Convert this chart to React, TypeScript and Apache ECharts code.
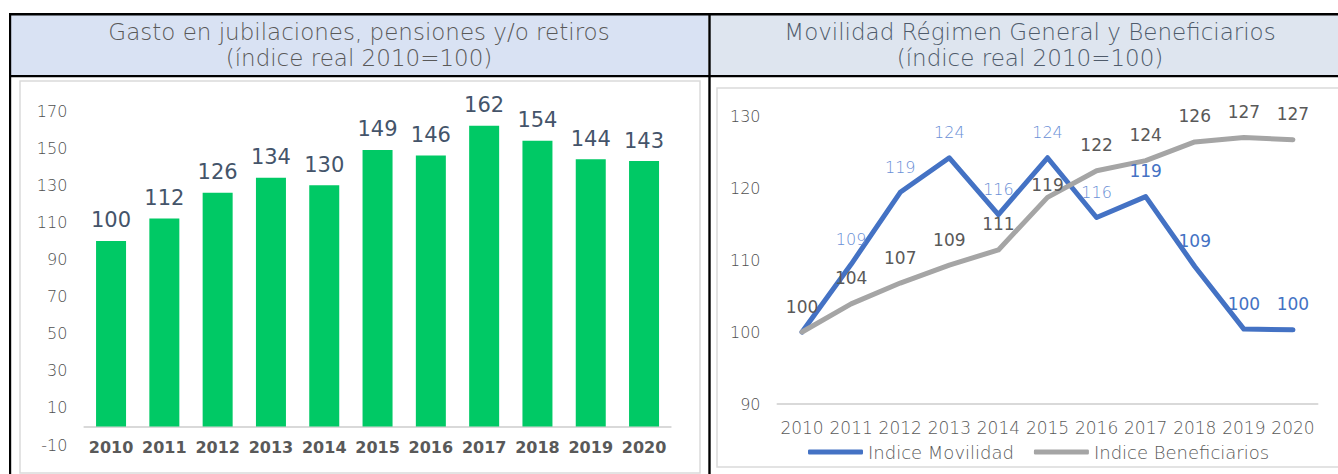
import React, { useEffect, useRef } from "react";
import * as echarts from "echarts";

const years = ["2010", "2011", "2012", "2013", "2014", "2015", "2016", "2017", "2018", "2019", "2020"];
const gasto = [100, 112, 126, 134, 130, 149, 146, 162, 154, 144, 143];
const movilidad = [100, 109.4, 119.4, 124.2, 116.3, 124.2, 115.9, 118.8, 109.1, 100.4, 100.3];
const beneficiarios = [100, 103.9, 106.8, 109.3, 111.4, 118.7, 122.4, 123.8, 126.4, 127.0, 126.7];
const leftTitle = "Gasto en jubilaciones, pensiones y/o retiros\n(índice real 2010=100)";
const rightTitle = "Movilidad Régimen General y Beneficiarios\n(índice real 2010=100)";
const seriesNames = ["Indice Movilidad", "Indice Beneficiarios"];

const FONT = "'DejaVu Sans', 'Noto Sans', sans-serif";

export default function App() {
  const ref = useRef<HTMLDivElement>(null);
  useEffect(() => {
    if (!ref.current) return;
    const chart = echarts.init(ref.current, null, { renderer: "svg" });
    const blueLight = "#6A8FD6";
    const blueDark = "#4472C4";
    const option: any = {
      animation: false,
      backgroundColor: "#ffffff",
      textStyle: { fontFamily: FONT },
      title: [
        {
          text: leftTitle,
          left: 359,
          top: 19,
          padding: 0,
          textAlign: "center",
          textStyle: { fontFamily: FONT, fontSize: 23, fontWeight: 200, color: "#595959", lineHeight: 26 },
        },
        {
          text: rightTitle,
          left: 1030,
          top: 19,
          padding: 0,
          textAlign: "center",
          textStyle: { fontFamily: FONT, fontSize: 23, fontWeight: 200, color: "#4F5B6B", lineHeight: 26 },
        },
      ],
      graphic: [
        { type: "rect", z: -10, shape: { x: 11, y: 15, width: 697, height: 60 }, style: { fill: "#D9E2F3" } },
        { type: "rect", z: -10, shape: { x: 710, y: 15, width: 640, height: 60 }, style: { fill: "#DEE5EF" } },
        { type: "rect", z: 5, shape: { x: 9, y: 13, width: 1340, height: 2.5 }, style: { fill: "#000" } },
        { type: "rect", z: 5, shape: { x: 9, y: 75, width: 1340, height: 2.3 }, style: { fill: "#000" } },
        { type: "rect", z: 5, shape: { x: 9, y: 13, width: 2.2, height: 470 }, style: { fill: "#000" } },
        { type: "rect", z: 5, shape: { x: 708.3, y: 13, width: 2.4, height: 470 }, style: { fill: "#000" } },
        { type: "rect", z: -5, shape: { x: 20, y: 81, width: 680, height: 392 }, style: { fill: "#fff", stroke: "#DADADA", lineWidth: 1.5 } },
        { type: "rect", z: -5, shape: { x: 717, y: 88, width: 700, height: 379 }, style: { fill: "#fff", stroke: "#DADADA", lineWidth: 1.5 } },
      ],
      legend: {
        left: 803,
        top: 438,
        itemWidth: 55,
        itemHeight: 5,
        itemGap: 20,
        icon: "roundRect",
        data: seriesNames,
        textStyle: { fontFamily: FONT, fontSize: 18, color: "#595959", fontWeight: 200 },
      },
      grid: [
        { left: 84.4, top: 111, width: 586.3, height: 334 },
        { left: 777.5, top: 116, width: 540, height: 288 },
      ],
      xAxis: [
        {
          type: "category",
          gridIndex: 0,
          data: years,
          axisLine: { lineStyle: { color: "#D9D9D9", width: 2 } },
          axisTick: { show: false },
          axisLabel: { interval: 0, margin: -6, fontFamily: FONT, fontSize: 16, fontWeight: "bold", color: "#595959" },
        },
        {
          type: "category",
          gridIndex: 1,
          data: years,
          axisLine: { lineStyle: { color: "#D9D9D9", width: 2 } },
          axisTick: { show: false },
          axisLabel: { interval: 0, margin: 15, fontFamily: FONT, fontSize: 17, fontWeight: 200, color: "#595959" },
        },
      ],
      yAxis: [
        {
          type: "value",
          gridIndex: 0,
          min: -10,
          max: 170,
          interval: 20,
          axisLine: { show: false },
          axisTick: { show: false },
          splitLine: { show: false },
          axisLabel: { margin: 17, fontFamily: FONT, fontSize: 16, fontWeight: 200, color: "#505050" },
        },
        {
          type: "value",
          gridIndex: 1,
          min: 90,
          max: 130,
          interval: 10,
          axisLine: { show: false },
          axisTick: { show: false },
          splitLine: { show: false },
          axisLabel: { margin: 17, fontFamily: FONT, fontSize: 16, fontWeight: 200, color: "#505050" },
        },
      ],
      series: [
        {
          type: "bar",
          xAxisIndex: 0,
          yAxisIndex: 0,
          data: gasto,
          barWidth: 30,
          itemStyle: { color: "#00C965" },
          label: {
            show: true,
            position: "top",
            distance: 10,
            fontFamily: FONT,
            fontSize: 21,
            color: "#44546A",
          },
        },
        {
          name: seriesNames[0],
          type: "line",
          xAxisIndex: 1,
          yAxisIndex: 1,
          data: movilidad.map((v, i) => ({
            value: v,
            label: {
              show: i !== 0,
              color: i < 7 ? blueLight : blueDark,
              fontWeight: i < 7 ? 200 : "normal",
              fontSize: i < 7 ? 16 : 17,
            },
          })),
          symbol: "circle",
          symbolSize: 0,
          showSymbol: true,
          lineStyle: { color: blueDark, width: 5, cap: "round", join: "round" },
          itemStyle: { color: blueDark },
          label: {
            show: true,
            position: "top",
            distance: 17,
            fontFamily: FONT,
            fontSize: 17,
            formatter: (p: any) => String(Math.round(p.value)),
          },
        },
        {
          name: seriesNames[1],
          type: "line",
          xAxisIndex: 1,
          yAxisIndex: 1,
          data: beneficiarios.map((v, i) => ({
            value: v,
            label: i === 5 ? { distance: 4 } : {},
          })),
          symbol: "circle",
          symbolSize: 0,
          showSymbol: true,
          lineStyle: { color: "#A5A5A5", width: 5, cap: "round", join: "round" },
          itemStyle: { color: "#A5A5A5" },
          label: {
            show: true,
            position: "top",
            distance: 17,
            fontFamily: FONT,
            fontSize: 17,
            color: "#595959",
            formatter: (p: any) => String(Math.round(p.value)),
          },
        },
      ],
    };
    chart.setOption(option);
    return () => chart.dispose();
  }, []);
  return (
    <div
      ref={ref}
      style={{ position: "absolute", left: 0, top: 0, width: 1338, height: 474, background: "#fff" }}
    />
  );
}
